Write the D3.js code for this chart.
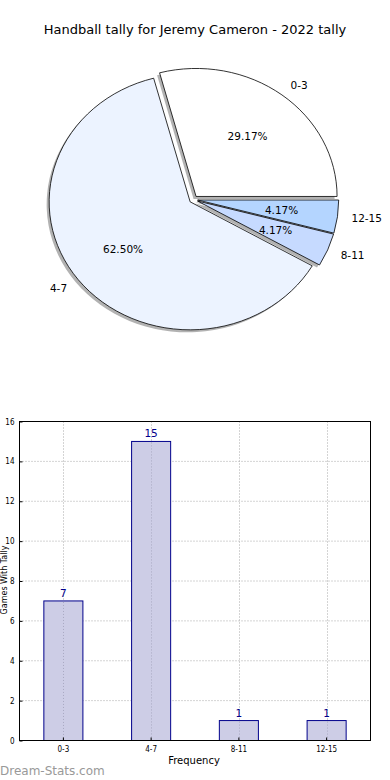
<!DOCTYPE html>
<html>
<head>
<meta charset="utf-8">
<script src="https://cdn.jsdelivr.net/npm/d3@7"></script>
<style>
  body { margin: 0; background: #fff; }
  svg { display: block; font-family: "DejaVu Sans", sans-serif; }
</style>
</head>
<body>
<svg id="chart" width="390" height="780"></svg>
<script>
// data
var categories = ["0-3", "4-7", "8-11", "12-15"];
var tally = [7, 15, 1, 1];
var sliceColors = ["#ffffff", "#ecf3ff", "#c6daff", "#b4d5ff"];
var yTicks = [0, 2, 4, 6, 8, 10, 12, 14, 16];

var svg = d3.select("#chart");

// ---- title ----
svg.append("text")
    .attr("x", 195).attr("y", 34)
    .attr("text-anchor", "middle")
    .style("font-size", "13px")
    .text("Handball tally for Jeremy Cameron - 2022 tally");

// ---- pie (matplotlib style: starts at east, goes counter-clockwise, ellipse because aspect isn't equal) ----
var cx = 193.5, cy = 199.5, rx = 141, ry = 128, R = 100;
var explode = 0.03;

var pie = d3.pie().sort(null)
    .startAngle(Math.PI / 2)
    .endAngle(Math.PI / 2 - 2 * Math.PI);
var arcs = pie(tally);
var total = d3.sum(tally);

var arc = d3.arc().innerRadius(0).outerRadius(R);

function midDir(d) {
    // d3 angle: 0 = up, clockwise
    var a = (d.startAngle + d.endAngle) / 2;
    return [Math.sin(a), -Math.cos(a)];
}

var pieG = svg.append("g");

// shadows first
arcs.forEach(function(d, i) {
    var m = midDir(d);
    var ox = cx + explode * rx * m[0] - 2.5;
    var oy = cy + explode * ry * m[1] + 2.5;
    pieG.append("path")
        .attr("d", arc(d))
        .attr("transform", "translate(" + ox + "," + oy + ") scale(" + rx / R + "," + ry / R + ")")
        .attr("fill", "#666")
        .attr("opacity", 0.5);
});

arcs.forEach(function(d, i) {
    var m = midDir(d);
    var ox = cx + explode * rx * m[0];
    var oy = cy + explode * ry * m[1];
    pieG.append("path")
        .attr("d", arc(d))
        .attr("transform", "translate(" + ox + "," + oy + ") scale(" + rx / R + "," + ry / R + ")")
        .attr("fill", sliceColors[i])
        .attr("stroke", "#000")
        .attr("stroke-width", 0.8)
        .attr("vector-effect", "non-scaling-stroke");
});

// labels and percentages
arcs.forEach(function(d, i) {
    var m = midDir(d);
    var ox = cx + explode * rx * m[0];
    var oy = cy + explode * ry * m[1];
    var pct = (d.value / total * 100).toFixed(2) + "%";
    pieG.append("text")
        .attr("x", ox + 0.6 * rx * m[0])
        .attr("y", oy + 0.6 * ry * m[1] + 4)
        .attr("text-anchor", "middle")
        .style("font-size", "10.5px")
        .text(pct);
    var lx = ox + 1.1 * rx * m[0];
    var ly = oy + 1.1 * ry * m[1] + 4;
    pieG.append("text")
        .attr("x", lx)
        .attr("y", ly)
        .attr("text-anchor", m[0] >= 0 ? "start" : "end")
        .style("font-size", "10.5px")
        .text(categories[i]);
});

// ---- bar chart ----
var margin = {left: 19.5, right: 370.5, top: 421.5, bottom: 740.5};

var x = d3.scaleBand()
    .domain(categories)
    .range([margin.left, margin.right])
    .paddingInner(0.555)
    .paddingOuter(0.2775);

var y = d3.scaleLinear()
    .domain([0, 16])
    .range([margin.bottom, margin.top]);

var barG = svg.append("g");

// grid
barG.selectAll(".hgrid").data(yTicks.slice(1, -1)).enter().append("line")
    .attr("x1", margin.left).attr("x2", margin.right)
    .attr("y1", function(d) { return y(d); })
    .attr("y2", function(d) { return y(d); })
    .attr("stroke", "#a8a8a8").attr("stroke-width", 1)
    .attr("stroke-dasharray", "1,2");

barG.selectAll(".vgrid").data(categories).enter().append("line")
    .attr("x1", function(d) { return Math.round(x(d) + x.bandwidth() / 2) + 0.5; })
    .attr("x2", function(d) { return Math.round(x(d) + x.bandwidth() / 2) + 0.5; })
    .attr("y1", margin.top).attr("y2", margin.bottom)
    .attr("stroke", "#a8a8a8").attr("stroke-width", 1)
    .attr("stroke-dasharray", "1,2");

// bars
barG.selectAll(".bar").data(tally).enter().append("rect")
    .attr("x", function(d, i) { return x(categories[i]); })
    .attr("y", function(d) { return y(d); })
    .attr("width", x.bandwidth())
    .attr("height", function(d) { return y(0) - y(d); })
    .attr("fill", "#cdcde6")
    .attr("stroke", "#00008b")
    .attr("stroke-width", 1);

// vertical grid shows through the bars in the original
barG.selectAll(".vgrid2").data(categories).enter().append("line")
    .attr("x1", function(d) { return Math.round(x(d) + x.bandwidth() / 2) + 0.5; })
    .attr("x2", function(d) { return Math.round(x(d) + x.bandwidth() / 2) + 0.5; })
    .attr("y1", function(d, i) { return y(tally[i]) + 1; }).attr("y2", margin.bottom)
    .attr("stroke", "#a8a8c0").attr("stroke-width", 1)
    .attr("stroke-dasharray", "1,2");

// value labels
barG.selectAll(".val").data(tally).enter().append("text")
    .attr("x", function(d, i) { return x(categories[i]) + x.bandwidth() / 2; })
    .attr("y", function(d) { return y(d) - 4; })
    .attr("text-anchor", "middle")
    .attr("fill", "#00008b")
    .style("font-size", "10.5px")
    .text(function(d) { return d; });

// frame
barG.append("rect")
    .attr("x", margin.left).attr("y", margin.top)
    .attr("width", margin.right - margin.left)
    .attr("height", margin.bottom - margin.top)
    .attr("fill", "none").attr("stroke", "#000").attr("stroke-width", 1);

// axes
var yAxis = d3.axisLeft(y).tickValues(yTicks).tickSize(-3).tickPadding(5);
var gy = barG.append("g")
    .attr("transform", "translate(" + margin.left + ",0)")
    .call(yAxis);
gy.select(".domain").remove();
gy.selectAll("text").style("font-size", "8px").style("font-family", "'Liberation Sans Narrow', 'DejaVu Sans Condensed', sans-serif");

var xAxis = d3.axisBottom(x).tickSize(-3).tickPadding(6);
var gx = barG.append("g")
    .attr("transform", "translate(0," + margin.bottom + ")")
    .call(xAxis);
gx.select(".domain").remove();
gx.selectAll("text").style("font-size", "8px").style("font-family", "'Liberation Sans Narrow', 'DejaVu Sans Condensed', sans-serif");

// axis titles
svg.append("text")
    .attr("x", 194).attr("y", 764)
    .attr("text-anchor", "middle")
    .style("font-size", "10px")
    .text("Frequency");

svg.append("text")
    .attr("transform", "translate(7,580) rotate(-90)")
    .attr("text-anchor", "middle")
    .style("font-size", "8px")
    .text("Games With Tally");

// watermark
svg.append("text")
    .attr("x", 0).attr("y", 775)
    .style("font-size", "12px")
    .attr("fill", "#999")
    .text("Dream-Stats.com");
</script>
</body>
</html>
